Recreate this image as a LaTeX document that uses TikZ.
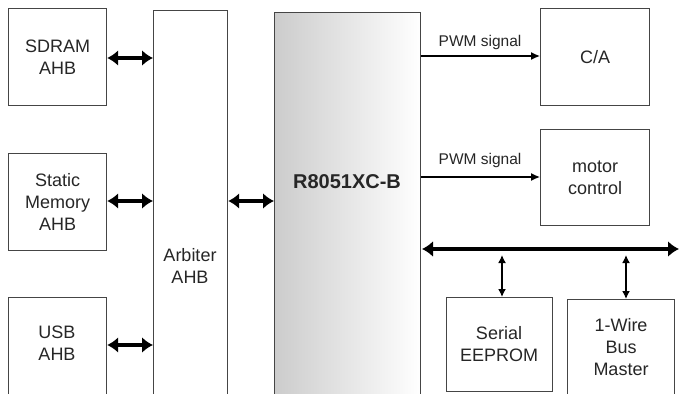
\documentclass[tikz,border=0pt]{standalone}
\usepackage{fontspec}
\setmainfont{Liberation Sans}
\usetikzlibrary{arrows.meta}
\definecolor{edge}{HTML}{454545}
\tikzset{
  box/.style={draw=edge, line width=1.2pt, fill=white, inner sep=0pt, anchor=north west},
  lbl/.style={font=\fontsize{18}{22}\selectfont, align=center, text=black!85, inner sep=0pt},
  sig/.style={font=\fontsize{15.5}{18}\selectfont, text=black!85, inner sep=0pt},
  bigarrow/.style={line width=4pt, {Latex[length=11pt,width=16pt]}-{Latex[length=11pt,width=16pt]}},
  smallarrow/.style={line width=1.5pt, {Latex[length=8pt,width=8pt]}-{Latex[length=8pt,width=8pt]}},
  sigarrow/.style={line width=1.3pt, -{Latex[length=9pt,width=8pt]}}
}
\begin{document}
\begin{tikzpicture}[x=1pt,y=-1pt]
\clip (0,0) rectangle (679,393);
\fill[white] (0,0) rectangle (679,393);
% left column
\node[box, minimum width=98pt, minimum height=97pt] (sdram) at (8,8) {};
\node[lbl] (sdramt) at (sdram.center) {SDRAM\\AHB};
\node[box, minimum width=98pt, minimum height=97pt] (smem) at (8,153) {};
\node[lbl] (smemt) at (smem.center) {Static\\Memory\\AHB};
\node[box, minimum width=98pt, minimum height=110pt] (usb) at (8,297) {};
\node[lbl] (usbt) at (57,343) {USB\\AHB};
% arbiter
\node[box, minimum width=74pt, minimum height=400pt] (arb) at (153,10) {};
\node[lbl] (arbt) at (190,266) {Arbiter\\AHB};
% core
\node[box, minimum width=146pt, minimum height=400pt, left color=black!20, right color=white] (core) at (274,12) {};
\node[lbl, font=\fontsize{20}{22}\selectfont\bfseries] (coret) at (347,182) {R8051XC-B};
% right boxes
\node[box, minimum width=109pt, minimum height=97pt] (ca) at (540,8) {};
\node[lbl] (cat) at (ca.center) {C/A};
\node[box, minimum width=109pt, minimum height=96pt] (motor) at (540,129) {};
\node[lbl] (motort) at (motor.center) {motor\\control};
\node[box, minimum width=106pt, minimum height=94pt] (eeprom) at (446,297) {};
\node[lbl] (eepromt) at (499,344) {Serial\\EEPROM};
\node[box, minimum width=107pt, minimum height=110pt] (wire) at (567,299) {};
\node[lbl] (wiret) at (621,347) {1-Wire\\Bus\\Master};
% bus end points
\coordinate (busl) at (422,249);
\coordinate (busr) at (679,249);
% arrows
\draw[bigarrow] (sdram.east |- 0,58) -- (arb.west |- 0,58);
\draw[bigarrow] (smem.east |- 0,201) -- (arb.west |- 0,201);
\draw[bigarrow] (usb.east |- 0,345) -- (arb.west |- 0,345);
\draw[bigarrow] (arb.east |- 0,201) -- (core.west |- 0,201);
\draw[bigarrow] (busl) -- (busr);
\draw[smallarrow] (502,255) -- (eeprom.north -| 502,0);
\draw[smallarrow] (626,255) -- (wire.north -| 626,0);
\draw[sigarrow] (core.east |- 0,56) -- (ca.west |- 0,56);
\draw[sigarrow] (core.east |- 0,177) -- (motor.west |- 0,177);
\node[sig] (pwm1) at (480,42) {PWM signal};
\node[sig] (pwm2) at (480,160) {PWM signal};
\end{tikzpicture}
\end{document}
